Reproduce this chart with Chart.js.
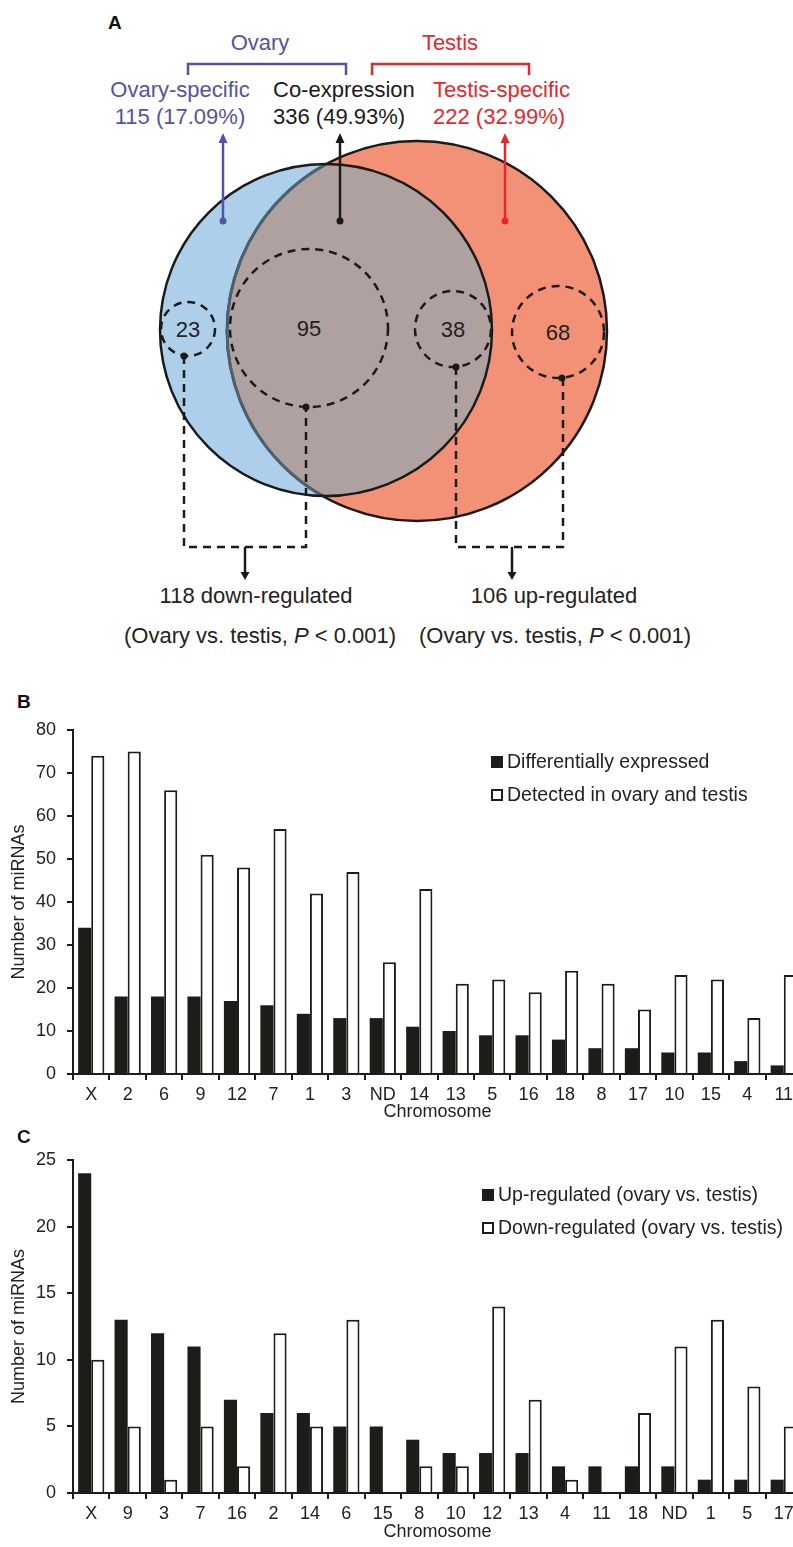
<!DOCTYPE html>
<html>
<head>
<meta charset="utf-8">
<script src="https://cdn.jsdelivr.net/npm/chart.js@4.4.1/dist/chart.umd.min.js"></script>
<style>
  html, body { margin: 0; padding: 0; background: #fff; }
  #page { position: relative; width: 793px; height: 1547px; overflow: hidden; font-family: "Liberation Sans", Arial, sans-serif; color: #222; }
  #venn { position: absolute; left: 0; top: 0; }
  canvas { position: absolute; left: 0; }
  .panel { position: absolute; font-weight: bold; font-size: 19px; color: #111; }
  .legend { position: absolute; font-size: 19.5px; color: #222; line-height: 1; }
  .legend div { height: 33px; display: flex; align-items: center; white-space: nowrap; }
  .legend i { display: inline-block; width: 12px; height: 12px; box-sizing: border-box; border: 2px solid #1d1c18; margin-right: 4px; }
</style>
</head>
<body>
<div id="page">
  <svg id="venn" width="793" height="660"></svg>

  <div class="panel" style="left:17px; top:691px;">B</div>
  <canvas id="chartB" width="802" height="428" style="top:700px;"></canvas>
  <div class="legend" id="legendB" style="left:491px; top:745px;"></div>

  <div class="panel" style="left:17px; top:1126px;">C</div>
  <canvas id="chartC" width="802" height="417" style="top:1130px;"></canvas>
  <div class="legend" id="legendC" style="left:482px; top:1178px;"></div>
</div>

<script>
// --- panel A numbers ---
const vennGroups = ['Ovary-specific', 'Co-expression', 'Testis-specific'];
const vennCounts = [115, 336, 222];
const vennPercents = ['17.09%', '49.93%', '32.99%'];
const degCounts = [23, 95, 38, 68];
const degSummary = ['118 down-regulated', '106 up-regulated'];

// --- panel B ---
const chromB = ['X', '2', '6', '9', '12', '7', '1', '3', 'ND', '14', '13', '5', '16', '18', '8', '17', '10', '15', '4', '11'];
const diffExpressed = [34, 18, 18, 18, 17, 16, 14, 13, 13, 11, 10, 9, 9, 8, 6, 6, 5, 5, 3, 2];
const detectedBoth = [74, 75, 66, 51, 48, 57, 42, 47, 26, 43, 21, 22, 19, 24, 21, 15, 23, 22, 13, 23];
const ticksB = [0, 10, 20, 30, 40, 50, 60, 70, 80];

// --- panel C ---
const chromC = ['X', '9', '3', '7', '16', '2', '14', '6', '15', '8', '10', '12', '13', '4', '11', '18', 'ND', '1', '5', '17'];
const upReg = [24, 13, 12, 11, 7, 6, 6, 5, 5, 4, 3, 3, 3, 2, 2, 2, 2, 1, 1, 1];
const downReg = [10, 5, 1, 5, 2, 12, 5, 13, 0, 2, 2, 14, 7, 1, 0, 6, 11, 13, 8, 5];
const ticksC = [0, 5, 10, 15, 20, 25];

const BLACK = '#1d1c18';
const PURPLE = '#5252a6';
const RED = '#e8262b';
const FONT = '"Liberation Sans", Arial, sans-serif';

// ---------- Venn diagram (panel A) ----------
function drawVenn() {
  const svg = document.getElementById('venn');
  const ov = { x: 326, y: 330, r: 166 };
  const te = { x: 417, y: 331, r: 190 };
  const small = [
    { x: 188, y: 329, r: 27 },
    { x: 309, y: 328, r: 79 },
    { x: 453, y: 329, r: 38 },
    { x: 558, y: 332, r: 46 }
  ];
  const dash = 'stroke="#1a1a1a" stroke-width="2.5" stroke-dasharray="8 6" fill="none"';
  const txt = (x, y, s, anchor, color, extra) =>
    `<text x="${x}" y="${y}" text-anchor="${anchor}" fill="${color}" font-size="22" ${extra || ''}>${s}</text>`;
  const arrowUp = (x, y0, y1, color) =>
    `<line x1="${x}" y1="${y0}" x2="${x}" y2="${y1 + 8}" stroke="${color}" stroke-width="2.5"/>` +
    `<path d="M${x - 4.5} ${y1 + 10} L${x} ${y1} L${x + 4.5} ${y1 + 10} Z" fill="${color}"/>` +
    `<circle cx="${x}" cy="${y0}" r="3.5" fill="${color}"/>`;
  const arrowDown = (x, y0, y1) =>
    `<line x1="${x}" y1="${y0}" x2="${x}" y2="${y1 - 6}" stroke="#1a1a1a" stroke-width="2.5"/>` +
    `<path d="M${x - 4.5} ${y1 - 8} L${x} ${y1} L${x + 4.5} ${y1 - 8} Z" fill="#1a1a1a"/>`;

  let s = `<defs><clipPath id="ovClip"><circle cx="${ov.x}" cy="${ov.y}" r="${ov.r}"/></clipPath></defs>`;
  s += `<g font-family='${FONT}'>`;
  s += `<text x="108" y="29" font-size="19" font-weight="bold" fill="#111">A</text>`;
  s += `<circle cx="${ov.x}" cy="${ov.y}" r="${ov.r}" fill="#aecfea"/>`;
  s += `<circle cx="${te.x}" cy="${te.y}" r="${te.r}" fill="#f39176"/>`;
  s += `<circle cx="${te.x}" cy="${te.y}" r="${te.r}" fill="#b0a1a1" clip-path="url(#ovClip)"/>`;
  s += `<circle cx="${te.x}" cy="${te.y}" r="${te.r}" fill="none" stroke="#1a1a1a" stroke-width="2.5"/>`;
  s += `<circle cx="${te.x}" cy="${te.y}" r="${te.r}" fill="none" stroke="#4d6270" stroke-width="3" clip-path="url(#ovClip)"/>`;
  s += `<circle cx="${ov.x}" cy="${ov.y}" r="${ov.r}" fill="none" stroke="#1a1a1a" stroke-width="2.5"/>`;

  // dashed subsets
  small.forEach((c, i) => {
    s += `<circle cx="${c.x}" cy="${c.y}" r="${c.r}" ${dash}/>`;
    s += txt(c.x, c.y + 8, degCounts[i], 'middle', '#222');
  });
  // connectors
  s += `<path d="M184 356 V547 H306 V407" ${dash}/>`;
  s += `<path d="M456 367 V547 H563 V378" ${dash}/>`;
  [[184, 356], [306, 407], [456, 367], [562, 378]].forEach(p => {
    s += `<circle cx="${p[0]}" cy="${p[1]}" r="3.5" fill="#1a1a1a"/>`;
  });
  s += arrowDown(245, 547, 580);
  s += arrowDown(512, 547, 580);

  // upper arrows
  s += arrowUp(223, 221, 133, PURPLE);
  s += arrowUp(340, 221, 133, '#1a1a1a');
  s += arrowUp(505, 221, 133, RED);

  // brackets
  s += `<path d="M188 75 V64 H346 V75" fill="none" stroke="${PURPLE}" stroke-width="2.5"/>`;
  s += `<path d="M372 75 V64 H529 V75" fill="none" stroke="${RED}" stroke-width="2.5"/>`;
  s += txt(260, 50, 'Ovary', 'middle', PURPLE);
  s += txt(450, 50, 'Testis', 'middle', RED);

  // group labels
  s += txt(180, 97, vennGroups[0], 'middle', PURPLE);
  s += txt(180, 124, `${vennCounts[0]} (${vennPercents[0]})`, 'middle', PURPLE);
  s += txt(273, 97, vennGroups[1], 'start', '#1a1a1a');
  s += txt(273, 124, `${vennCounts[1]} (${vennPercents[1]})`, 'start', '#1a1a1a');
  s += txt(433, 97, vennGroups[2], 'start', RED);
  s += txt(433, 124, `${vennCounts[2]} (${vennPercents[2]})`, 'start', RED);

  // summaries
  s += txt(256, 603, degSummary[0], 'middle', '#222');
  s += txt(554, 603, degSummary[1], 'middle', '#222');
  const pLine = '(Ovary vs. testis, <tspan font-style="italic">P</tspan> &lt; 0.001)';
  s += txt(260, 643, pLine, 'middle', '#222', 'font-size="22.8"');
  s += txt(555, 643, pLine, 'middle', '#222', 'font-size="22.8"');
  s += `</g>`;
  svg.innerHTML = s;
}
drawVenn();

// ---------- bar charts (panels B and C) ----------
Chart.defaults.font.family = FONT;
Chart.defaults.color = '#222';

function legendHtml(el, names) {
  el.innerHTML = names.map((n, i) =>
    `<div><i style="background:${i === 0 ? BLACK : '#fff'}"></i>${n}</div>`).join('');
}

function makeBars(id, labels, first, second, names, tickVals, titlePadBottom) {
  return new Chart(document.getElementById(id), {
    type: 'bar',
    data: {
      labels: labels,
      datasets: [
        { label: names[0], data: first, backgroundColor: BLACK, borderColor: BLACK, borderWidth: 0 },
        { label: names[1], data: second, backgroundColor: '#fff', borderColor: BLACK, borderWidth: 2 }
      ]
    },
    options: {
      responsive: false,
      animation: false,
      layout: { padding: { top: 30, left: 0, right: 0, bottom: 0 } },
      datasets: { bar: { categoryPercentage: 0.72, barPercentage: 1.0 } },
      plugins: { legend: { display: false }, tooltip: { enabled: false } },
      scales: {
        x: {
          grid: { drawOnChartArea: false, drawTicks: true, tickLength: 6, color: BLACK, lineWidth: 2, offset: true },
          border: { color: BLACK, width: 2 },
          ticks: { font: { size: 18 }, padding: 4, maxRotation: 0, autoSkip: false, color: '#222' },
          title: { display: true, text: 'Chromosome', font: { size: 18 }, color: '#222', padding: { top: 0, bottom: titlePadBottom } },
          afterFit: scale => { scale.height = 54; }
        },
        y: {
          min: tickVals[0],
          max: tickVals[tickVals.length - 1],
          afterBuildTicks: scale => { scale.ticks = tickVals.map(v => ({ value: v })); },
          grid: { drawOnChartArea: false, drawTicks: true, tickLength: 6, color: BLACK, lineWidth: 2 },
          border: { color: BLACK, width: 2 },
          ticks: { font: { size: 18 }, padding: 11, color: '#222' },
          title: { display: true, text: 'Number of miRNAs', font: { size: 18 }, color: '#222', padding: { top: 8, bottom: 0 } },
          afterFit: scale => { scale.width = 73; }
        }
      }
    }
  });
}

const namesB = ['Differentially expressed', 'Detected in ovary and testis'];
const namesC = ['Up-regulated (ovary vs. testis)', 'Down-regulated (ovary vs. testis)'];
makeBars('chartB', chromB, diffExpressed, detectedBoth, namesB, ticksB, 5);
makeBars('chartC', chromC, upReg, downReg, namesC, ticksC, 4);
legendHtml(document.getElementById('legendB'), namesB);
legendHtml(document.getElementById('legendC'), namesC);
</script>
</body>
</html>
